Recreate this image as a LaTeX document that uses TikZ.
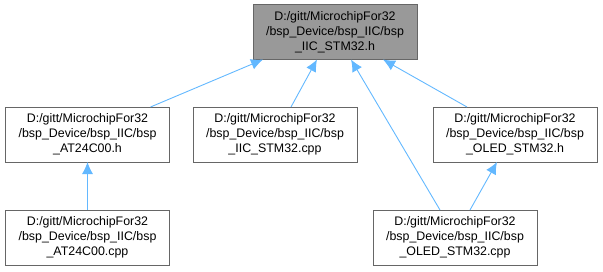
\documentclass[tikz,border=0pt]{standalone}
\usepackage{fontspec}
\setmainfont{Liberation Sans}
\usetikzlibrary{arrows.meta}
\definecolor{edgeblue}{HTML}{63B8FF}
\definecolor{boxline}{HTML}{666666}
\tikzset{
  file/.style={draw=boxline, fill=white, line width=0.9pt, minimum width=164pt,
    minimum height=55pt, inner sep=0pt, outer sep=0pt, align=center,
    font=\fontsize{12.4pt}{15pt}\selectfont},
  curfile/.style={file, fill=black!40},
  dep/.style={draw=edgeblue, line width=0.9pt, -{Latex[length=12pt,width=11pt]}}
}

\begin{document}
\begin{tikzpicture}[x=1pt, y=-1pt]
  \useasboundingbox (0,0) rectangle (603,271);

  % header everything depends on
  \node[curfile] (iich) at (335,32) {D:/gitt/MicrochipFor32\\/bsp\_Device/bsp\_IIC/bsp\\\_IIC\_STM32.h};

  % second row
  \node[file] (at24h)   at (87.5,134.5) {D:/gitt/MicrochipFor32\\/bsp\_Device/bsp\_IIC/bsp\\\_AT24C00.h};
  \node[file] (iiccpp)  at (275,134.5)  {D:/gitt/MicrochipFor32\\/bsp\_Device/bsp\_IIC/bsp\\\_IIC\_STM32.cpp};
  \node[file] (oledh)   at (515,134.5)  {D:/gitt/MicrochipFor32\\/bsp\_Device/bsp\_IIC/bsp\\\_OLED\_STM32.h};

  % third row
  \node[file] (at24cpp) at (87.5,237.5) {D:/gitt/MicrochipFor32\\/bsp\_Device/bsp\_IIC/bsp\\\_AT24C00.cpp};
  \node[file] (oledcpp) at (455,237.5)  {D:/gitt/MicrochipFor32\\/bsp\_Device/bsp\_IIC/bsp\\\_OLED\_STM32.cpp};

  % include edges
  \draw[dep] ([xshift=63pt]at24h.north)   -- ([xshift=-72pt]iich.south);
  \draw[dep] ([xshift=16pt]iiccpp.north)  -- ([xshift=-18pt]iich.south);
  \draw[dep] ([xshift=-15pt]oledcpp.north) -- ([xshift=16pt]iich.south);
  \draw[dep] ([xshift=-48pt]oledh.north)  -- ([xshift=48pt]iich.south);
  \draw[dep] (at24cpp.north) -- (at24h.south);
  \draw[dep] ([xshift=15pt]oledcpp.north) -- ([xshift=-18pt]oledh.south);
\end{tikzpicture}
\end{document}
